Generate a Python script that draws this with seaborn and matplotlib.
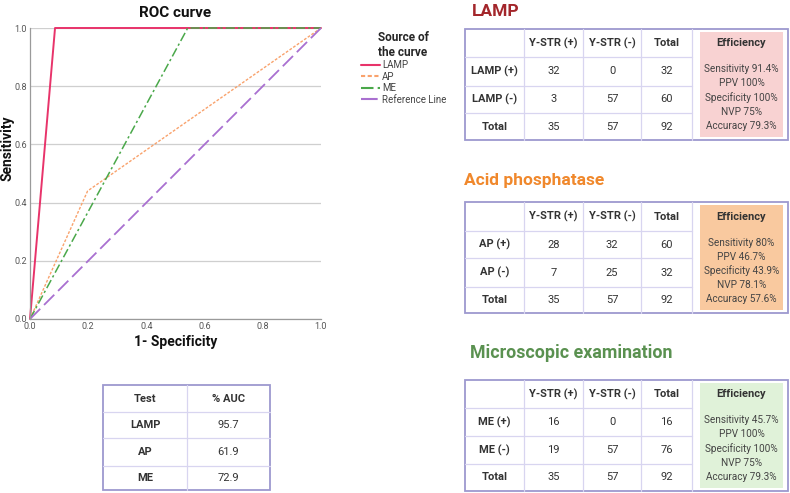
import pandas as pd
import matplotlib.pyplot as plt
import seaborn as sns
from matplotlib.patches import Rectangle

# ROC curve points (1 - specificity, sensitivity)
curve_names = ["LAMP", "AP", "ME", "Reference Line"]
lamp_fpr = [0.0, 0.086, 1.0]
lamp_tpr = [0.0, 1.0, 1.0]
ap_fpr = [0.0, 0.198, 1.0]
ap_tpr = [0.0, 0.44, 1.0]
me_fpr = [0.0, 0.542, 1.0]
me_tpr = [0.0, 1.0, 1.0]
ref_fpr = [0.0, 1.0]
ref_tpr = [0.0, 1.0]

# AUC table
auc_tests = ["LAMP", "AP", "ME"]
auc_values = ["95.7", "61.9", "72.9"]

# 2x2 tables
col_header = ["", "Y-STR (+)", "Y-STR (-)", "Total"]
lamp_rows = ["LAMP (+)", "LAMP (-)", "Total"]
lamp_vals = [[32, 0, 32], [3, 57, 60], [35, 57, 92]]
lamp_eff = ["Sensitivity 91.4%", "PPV 100%", "Specificity 100%", "NVP 75%", "Accuracy 79.3%"]
ap_rows = ["AP (+)", "AP (-)", "Total"]
ap_vals = [[28, 32, 60], [7, 25, 32], [35, 57, 92]]
ap_eff = ["Sensitivity 80%", "PPV 46.7%", "Specificity 43.9%", "NVP 78.1%", "Accuracy 57.6%"]
me_rows = ["ME (+)", "ME (-)", "Total"]
me_vals = [[16, 0, 16], [19, 57, 76], [35, 57, 92]]
me_eff = ["Sensitivity 45.7%", "PPV 100%", "Specificity 100%", "NVP 75%", "Accuracy 79.3%"]

sns.set_theme(style="white")
plt.rcParams['font.family'] = ['Roboto', 'DejaVu Sans']

TXT = "#333333"
OUTER = "#9d99cf"
INNER = "#d8d5f0"

fig = plt.figure(figsize=(7.9, 4.93), dpi=100)

# overlay in pixel coordinates for the tables
bg = fig.add_axes([0, 0, 1, 1])
bg.set_xlim(0, 790)
bg.set_ylim(493, 0)
bg.axis("off")

# ---- ROC plot ----
ax = fig.add_axes([30 / 790, 1 - 319 / 493, 291 / 790, 291 / 493])
ax.set_facecolor("none")
roc = pd.concat([
    pd.DataFrame({"fpr": lamp_fpr, "tpr": lamp_tpr, "curve": "LAMP"}),
    pd.DataFrame({"fpr": ap_fpr, "tpr": ap_tpr, "curve": "AP"}),
    pd.DataFrame({"fpr": me_fpr, "tpr": me_tpr, "curve": "ME"}),
    pd.DataFrame({"fpr": ref_fpr, "tpr": ref_tpr, "curve": "Reference Line"}),
])
palette = {"LAMP": "#e8336a", "AP": "#f9a26c", "ME": "#4aa84a", "Reference Line": "#a970d0"}
dashes = {"LAMP": "", "AP": (2.0, 1.2), "ME": (6, 2, 1.5, 2), "Reference Line": (8, 3)}
widths = {"LAMP": 1.4, "AP": 1.0, "ME": 1.1, "Reference Line": 1.3}
sns.lineplot(data=roc, x="fpr", y="tpr", hue="curve", style="curve", hue_order=curve_names,
             style_order=curve_names, palette=palette, dashes=dashes, sort=False,
             estimator=None, ax=ax)
for line, name in zip(ax.lines, curve_names):
    line.set_clip_on(False)
    line.set_linewidth(widths[name])

ax.set_xlim(0, 1)
ax.set_ylim(0, 1)
ax.set_xticks([0, 0.2, 0.4, 0.6, 0.8, 1.0])
ax.set_yticks([0, 0.2, 0.4, 0.6, 0.8, 1.0])
ax.set_xticklabels([f"{v:.1f}" for v in ax.get_xticks()])
ax.set_yticklabels([f"{v:.1f}" for v in ax.get_yticks()])
ax.tick_params(labelsize=6.5, colors="#555555", length=0, pad=2)
ax.yaxis.grid(True, color="#cfcfcf", linewidth=0.9)
ax.set_axisbelow(True)
for s in ["top", "right"]:
    ax.spines[s].set_visible(False)
for s in ["left", "bottom"]:
    ax.spines[s].set_color("#9a9a9a")
    ax.spines[s].set_linewidth(0.9)
ax.set_title("ROC curve", fontsize=11, fontweight="bold", color="#111111", pad=8)
ax.set_xlabel("1- Specificity", fontsize=10, fontweight="bold", color="#111111", labelpad=3)
ax.set_ylabel("")
bg.text(8, 148, "Sensitivity", rotation=90, ha="center", va="center", fontsize=10,
        fontweight="bold", color="#111111")

handles, labels = ax.get_legend_handles_labels()
ax.get_legend().remove()
leg = fig.legend(handles, labels, title="Source of\nthe curve", loc="upper left",
                 bbox_to_anchor=(352 / 790, 1 - 22 / 493), frameon=False, fontsize=7,
                 handlelength=2.0, handletextpad=0.2, labelspacing=0.15,
                 title_fontproperties={"weight": "bold", "size": 8.5})
for t in leg.get_texts():
    t.set_color("#444444")


def hline(x0, x1, y, color=INNER, lw=0.9):
    bg.plot([x0, x1], [y, y], color=color, lw=lw)


def vline(x, y0, y1, color=INNER, lw=0.9):
    bg.plot([x, x], [y0, y1], color=color, lw=lw)


def cont_table(title, title_color, title_x, title_y, title_size, xs, ys, rows, vals, eff,
               eff_color):
    bg.text(title_x, title_y, title, fontsize=title_size, fontweight="bold", color=title_color,
            va="center", ha="left")
    x_end = 788
    # efficiency shaded cell
    bg.add_patch(Rectangle((700, ys[0] + 3), 83, ys[-1] - ys[0] - 6, facecolor=eff_color,
                           edgecolor="none"))
    for y in ys[1:-1]:
        hline(xs[0], xs[-1], y)
    for x in xs[1:-1]:
        vline(x, ys[0], ys[-1])
    vline(xs[-1], ys[0], ys[-1])
    bg.add_patch(Rectangle((xs[0], ys[0]), x_end - xs[0], ys[-1] - ys[0], facecolor="none",
                           edgecolor=OUTER, lw=1.3))
    xc = [(xs[i] + xs[i + 1]) / 2 for i in range(len(xs) - 1)]
    yc = [(ys[i] + ys[i + 1]) / 2 for i in range(len(ys) - 1)]
    for j, h in enumerate(col_header):
        bg.text(xc[j], yc[0], h, ha="center", va="center", fontsize=8, fontweight="bold", color=TXT)
    for i, r in enumerate(rows):
        bg.text(xc[0], yc[i + 1], r, ha="center", va="center", fontsize=8, fontweight="bold",
                color=TXT)
        for j, v in enumerate(vals[i]):
            bg.text(xc[j + 1], yc[i + 1], str(v), ha="center", va="center", fontsize=8, color=TXT)
    ex = 741.5
    bg.text(ex, yc[0], "Efficiency", ha="center", va="center", fontsize=8, fontweight="bold",
            color=TXT)
    y_start = ys[1] + 12
    step = (ys[-1] - 14 - y_start) / (len(eff) - 1)
    for k, line in enumerate(eff):
        bg.text(ex, y_start + k * step, line, ha="center", va="center", fontsize=7.2,
                color="#444444")


xs = [465, 524, 583, 641, 692]
cont_table("LAMP", "#a3262b", 472, 11, 12.5, xs, [29, 57, 86, 113, 140], lamp_rows, lamp_vals,
           lamp_eff, "#f8d2d2")
cont_table("Acid phosphatase", "#f0882c", 464, 180, 12.5, xs, [202, 231, 258, 287, 313], ap_rows,
           ap_vals, ap_eff, "#f9c99f")
cont_table("Microscopic examination", "#5a9150", 470, 353, 12.8, xs, [380, 408, 436, 464, 491],
           me_rows, me_vals, me_eff, "#e0f2d9")

# AUC table
ax_x = [103, 187, 270]
ax_y = [385, 412, 438, 466, 490]
for y in ax_y[1:-1]:
    hline(ax_x[0], ax_x[-1], y)
vline(ax_x[1], ax_y[0], ax_y[-1])
bg.add_patch(Rectangle((ax_x[0], ax_y[0]), ax_x[-1] - ax_x[0], ax_y[-1] - ax_y[0],
                       facecolor="none", edgecolor=OUTER, lw=1.3))
cx = [(ax_x[0] + ax_x[1]) / 2, (ax_x[1] + ax_x[2]) / 2]
cy = [(ax_y[i] + ax_y[i + 1]) / 2 for i in range(4)]
bg.text(cx[0], cy[0], "Test", ha="center", va="center", fontsize=8, fontweight="bold", color=TXT)
bg.text(cx[1], cy[0], "% AUC", ha="center", va="center", fontsize=8, fontweight="bold", color=TXT)
for i, (t, v) in enumerate(zip(auc_tests, auc_values)):
    bg.text(cx[0], cy[i + 1], t, ha="center", va="center", fontsize=8, fontweight="bold", color=TXT)
    bg.text(cx[1], cy[i + 1], v, ha="center", va="center", fontsize=8, color=TXT)

fig.savefig("out.png", dpi=100)
